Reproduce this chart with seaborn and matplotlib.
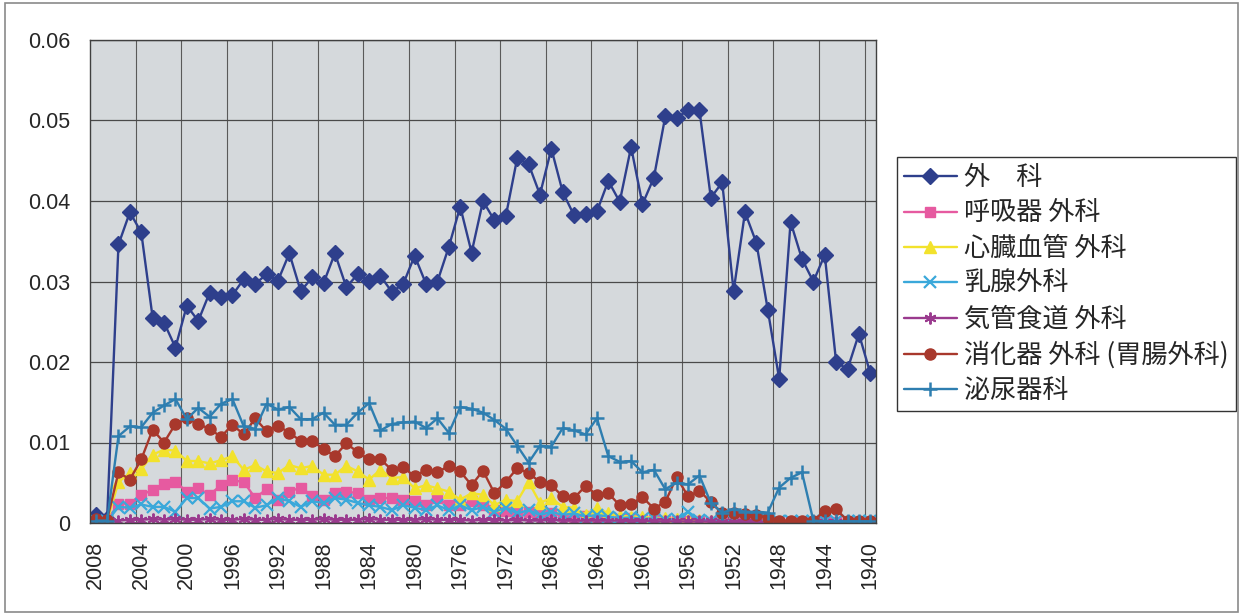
import matplotlib
matplotlib.use("Agg")
import matplotlib.pyplot as plt
import seaborn as sns
import pandas as pd
from matplotlib.patches import Rectangle
from matplotlib.ticker import FixedLocator

# ---------------- data (2008 -> 1940) ----------------
years = list(range(2008, 1939, -1))

labels = ["外\u3000科", "呼吸器 外科", "心臓血管 外科", "乳腺外科",
          "気管食道 外科", "消化器 外科 (胃腸外科)", "泌尿器科"]

surgery = [0.0010, 0.0005, 0.0346, 0.0386, 0.0361, 0.0255, 0.0249, 0.0218, 0.0270, 0.0251,
           0.0286, 0.0281, 0.0283, 0.0303, 0.0297, 0.0309, 0.0301, 0.0335, 0.0288, 0.0305,
           0.0298, 0.0335, 0.0293, 0.0309, 0.0301, 0.0307, 0.0287, 0.0297, 0.0332, 0.0297,
           0.0300, 0.0343, 0.0393, 0.0336, 0.0400, 0.0376, 0.0381, 0.0453, 0.0446, 0.0408,
           0.0465, 0.0411, 0.0382, 0.0384, 0.0387, 0.0425, 0.0399, 0.0467, 0.0396, 0.0429,
           0.0505, 0.0503, 0.0513, 0.0513, 0.0404, 0.0423, 0.0288, 0.0386, 0.0348, 0.0265,
           0.0179, 0.0374, 0.0328, 0.0300, 0.0333, 0.0200, 0.0191, 0.0235, 0.0186]

respiratory = [0.0003, 0.0003, 0.0024, 0.0024, 0.0035, 0.0041, 0.0049, 0.0051, 0.0039, 0.0043,
               0.0035, 0.0047, 0.0053, 0.0051, 0.0031, 0.0042, 0.0029, 0.0039, 0.0044, 0.0034,
               0.0028, 0.0037, 0.0039, 0.0037, 0.0029, 0.0031, 0.0031, 0.0029, 0.0027, 0.0022,
               0.0031, 0.0022, 0.0022, 0.0027, 0.0022, 0.0016, 0.0015, 0.0012, 0.0014, 0.0010,
               0.0012, 0.0009, 0.0008, 0.0009, 0.0006, 0.0007, 0.0005, 0.0006, 0.0004, 0.0004,
               0.0003, 0.0003, 0.0002, 0.0002, 0.0001, 0.0001, 0.0001, 0.0001, 0.0001, 0.0001,
               0.0001, 0.0001, 0.0001, 0.0001, 0.0001, 0.0001, 0.0001, 0.0001, 0.0001]

cardio = [0.0002, 0.0002, 0.0051, 0.0062, 0.0067, 0.0085, 0.0091, 0.0090, 0.0077, 0.0077,
          0.0074, 0.0078, 0.0083, 0.0066, 0.0072, 0.0064, 0.0062, 0.0072, 0.0068, 0.0071,
          0.0060, 0.0060, 0.0071, 0.0064, 0.0054, 0.0066, 0.0056, 0.0057, 0.0043, 0.0047,
          0.0043, 0.0039, 0.0029, 0.0037, 0.0035, 0.0022, 0.0029, 0.0027, 0.0051, 0.0025,
          0.0031, 0.0020, 0.0019, 0.0010, 0.0019, 0.0012, 0.0009, 0.0008, 0.0008, 0.0006,
          0.0006, 0.0005, 0.0004, 0.0004, 0.0003, 0.0001, 0.0001, 0.0001, 0.0001, 0.0001,
          0.0001, 0.0001, 0.0001, 0.0001, 0.0001, 0.0001, 0.0001, 0.0001, 0.0001]

breast = [0.0002, 0.0002, 0.0020, 0.0019, 0.0023, 0.0020, 0.0020, 0.0014, 0.0031, 0.0031,
          0.0018, 0.0020, 0.0027, 0.0027, 0.0019, 0.0022, 0.0031, 0.0027, 0.0020, 0.0027,
          0.0025, 0.0031, 0.0029, 0.0025, 0.0022, 0.0020, 0.0016, 0.0022, 0.0019, 0.0016,
          0.0022, 0.0016, 0.0022, 0.0016, 0.0020, 0.0014, 0.0019, 0.0012, 0.0016, 0.0010,
          0.0014, 0.0010, 0.0012, 0.0008, 0.0010, 0.0008, 0.0006, 0.0007, 0.0005, 0.0006,
          0.0004, 0.0005, 0.0014, 0.0004, 0.0003, 0.0002, 0.0002, 0.0002, 0.0002, 0.0002,
          0.0002, 0.0002, 0.0002, 0.0002, 0.0002, 0.0002, 0.0002, 0.0002, 0.0002]

broncho = [0.0001, 0.0001, 0.0003, 0.0004, 0.0004, 0.0005, 0.0004, 0.0005, 0.0004, 0.0004,
           0.0005, 0.0004, 0.0004, 0.0005, 0.0004, 0.0004, 0.0005, 0.0004, 0.0004, 0.0004,
           0.0005, 0.0004, 0.0004, 0.0004, 0.0005, 0.0004, 0.0004, 0.0004, 0.0004, 0.0005,
           0.0004, 0.0004, 0.0004, 0.0003, 0.0004, 0.0004, 0.0003, 0.0004, 0.0003, 0.0003,
           0.0004, 0.0003, 0.0003, 0.0003, 0.0003, 0.0003, 0.0003, 0.0002, 0.0003, 0.0002,
           0.0002, 0.0002, 0.0002, 0.0002, 0.0002, 0.0001, 0.0001, 0.0001, 0.0001, 0.0001,
           0.0001, 0.0001, 0.0001, 0.0001, 0.0001, 0.0001, 0.0001, 0.0001, 0.0001]

digestive = [0.0005, 0.0004, 0.0063, 0.0054, 0.0079, 0.0116, 0.0100, 0.0123, 0.0130, 0.0123,
             0.0117, 0.0107, 0.0122, 0.0110, 0.0130, 0.0114, 0.0121, 0.0112, 0.0102, 0.0102,
             0.0092, 0.0083, 0.0099, 0.0088, 0.0079, 0.0079, 0.0066, 0.0069, 0.0058, 0.0066,
             0.0063, 0.0071, 0.0064, 0.0047, 0.0065, 0.0037, 0.0051, 0.0068, 0.0062, 0.0051,
             0.0047, 0.0033, 0.0031, 0.0046, 0.0035, 0.0037, 0.0022, 0.0024, 0.0032, 0.0018,
             0.0026, 0.0057, 0.0033, 0.0040, 0.0026, 0.0012, 0.0012, 0.0011, 0.0010, 0.0006,
             0.0003, 0.0003, 0.0003, 0.0003, 0.0015, 0.0017, 0.0003, 0.0003, 0.0003]

urology = [0.0003, 0.0003, 0.0108, 0.0120, 0.0119, 0.0137, 0.0146, 0.0154, 0.0129, 0.0143,
           0.0132, 0.0148, 0.0154, 0.0120, 0.0117, 0.0148, 0.0141, 0.0144, 0.0129, 0.0129,
           0.0137, 0.0122, 0.0122, 0.0137, 0.0149, 0.0115, 0.0123, 0.0125, 0.0126, 0.0118,
           0.0130, 0.0112, 0.0144, 0.0142, 0.0137, 0.0128, 0.0117, 0.0096, 0.0075, 0.0096,
           0.0095, 0.0118, 0.0115, 0.0110, 0.0130, 0.0083, 0.0076, 0.0077, 0.0063, 0.0066,
           0.0042, 0.0050, 0.0048, 0.0059, 0.0025, 0.0013, 0.0017, 0.0014, 0.0014, 0.0013,
           0.0044, 0.0056, 0.0063, 0.0003, 0.0002, 0.0002, 0.0002, 0.0002, 0.0002]

tick_years = list(range(2008, 1939, -4))
y_ticks = [0, 0.01, 0.02, 0.03, 0.04, 0.05, 0.06]
y_ticklabels = ["0", "0.01", "0.02", "0.03", "0.04", "0.05", "0.06"]

# ---------------- styling ----------------
sns.set_theme(style="white")
plt.rcParams['font.family'] = ['Liberation Sans', 'Noto Sans CJK JP', 'DejaVu Sans']

W, H = 1245, 613
fig = plt.figure(figsize=(W / 100, H / 100), dpi=100)
fig.patch.set_facecolor('white')
ax = fig.add_axes([90 / W, 1 - 523 / H, (876 - 90) / W, (523 - 40) / H])
ax.set_facecolor('#D5D9DC')

series = [
    (labels[0], surgery,     '#2E3F8C', 'D',       8.5, 1.0),
    (labels[1], respiratory, '#E65AA0', 's',       6.5, 1.0),
    (labels[2], cardio,      '#F2E22C', '^',       8.5, 1.0),
    (labels[3], breast,      '#3AA8DA', 'x',       8.0, 1.6),
    (labels[4], broncho,     '#9A3A8E', (6, 2, 0), 8.5, 1.4),
    (labels[5], digestive,   '#A8382C', 'o',       8.0, 1.0),
    (labels[6], urology,     '#2E7EB0', '+',       10.0, 1.8),
]

for lab, vals, col, mk, ms, mew in series:
    df = pd.DataFrame({'year': years, 'value': vals})
    sns.lineplot(data=df, x='year', y='value', ax=ax, color=col, marker=mk,
                 markersize=ms, markeredgecolor=col, markerfacecolor=col,
                 markeredgewidth=mew, linewidth=1.7, label=lab, sort=False)

ax.set_xlim(2008.5, 1939.5)
ax.set_ylim(0, 0.06)
ax.set_xticks(tick_years)
ax.set_xticklabels([str(y) for y in tick_years], rotation=90, fontsize=15.5,
                   family=['Liberation Sans'])
ax.xaxis.set_minor_locator(FixedLocator([y + 0.5 for y in range(2004, 1939, -4)]))
ax.set_yticks(y_ticks)
ax.set_yticklabels(y_ticklabels, fontsize=15.5, family=['Liberation Sans'])
ax.tick_params(axis='both', which='both', length=0)
ax.tick_params(axis='x', pad=13)
ax.tick_params(axis='y', pad=14)
ax.set_xlabel('')
ax.set_ylabel('')

ax.grid(False)
ax.yaxis.grid(True, which='major', color='#4A4A4A', linewidth=0.9)
ax.xaxis.grid(True, which='minor', color='#5A5A5A', linewidth=0.8)
ax.set_axisbelow(True)
for s in ax.spines.values():
    s.set_visible(True)
    s.set_color('#404040')
    s.set_linewidth(1.0)

handles, lbls = ax.get_legend_handles_labels()
leg = ax.legend(handles, lbls, loc='upper left',
                bbox_to_anchor=(897 / W, 1 - 157 / H), bbox_transform=fig.transFigure,
                prop={'family': ['Noto Sans CJK JP', 'DejaVu Sans'], 'size': 18.8},
                frameon=True, fancybox=False, framealpha=1, edgecolor='#333333',
                borderpad=0.28, labelspacing=0.32, handlelength=2.0, handletextpad=0.3,
                borderaxespad=0)
leg.get_frame().set_linewidth(1.0)
leg.get_frame().set_facecolor('white')

fig.add_artist(Rectangle((5 / W, 0.002), (1238 - 5) / W, 1 - 3 / H - 0.002,
                         transform=fig.transFigure, fill=False,
                         edgecolor='#8A8A8A', linewidth=1.2))

fig.savefig('out.png', dpi=100, facecolor='white')
